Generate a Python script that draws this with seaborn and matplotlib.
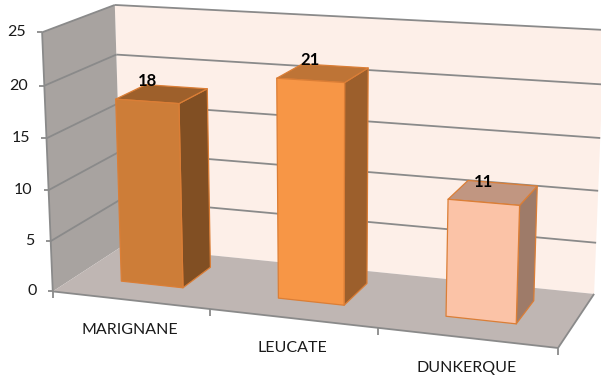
import numpy as np
import matplotlib
matplotlib.use("Agg")
import matplotlib.pyplot as plt
import matplotlib.colors as mcolors
from matplotlib.patches import Polygon
import seaborn as sns

# ---- data -------------------------------------------------------------
sites = ["MARIGNANE", "LEUCATE", "DUNKERQUE"]
counts = [18, 21, 11]
value_ticks = [0, 5, 10, 15, 20, 25]
bar_colors = ["#CD7D38", "#F79646", "#FBC3A7"]

sns.set_theme(style="white")
plt.rcParams["font.family"] = ["Lato", "DejaVu Sans"]

W, H = 601, 383
n_cat = len(sites)
z_max = value_ticks[-1]

# ---- perspective camera for the 3-D plot box -------------------------
# plot box: x = category slots, y = depth (0 front .. 1 back), z = value.
# The floor is placed by its corners and category ticks on the canvas,
# upright edges converge on a far vanishing point below the chart.
floor_world = np.array([[0, 0], [1, 0], [2, 0], [n_cat, 0], [0, 1], [n_cat, 1]], float)
floor_canvas = np.array([[52.3, 289.3], [211.0, 308.5], [378.3, 328.7],
                         [557.3, 350.0], [122.0, 248.3], [594.3, 291.7]])
vertical_vanish = np.array([329.0, 7000.0])
top_front_left = np.array([41.7, 32.3])       # canvas spot of (0, 0, z_max)


def fit_floor(world, canvas):
    cn = canvas / W
    rows = []
    for (X, Y), (u, v) in zip(world, cn):
        rows.append([X, Y, 1, 0, 0, 0, -u * X, -u * Y, -u])
        rows.append([0, 0, 0, X, Y, 1, -v * X, -v * Y, -v])
    _, _, vt = np.linalg.svd(np.array(rows))
    return vt[-1].reshape(3, 3)


def build_camera():
    hf = fit_floor(floor_world, floor_canvas)
    vp = np.array([*(vertical_vanish / W), 1.0])
    q = hf[:, 2]
    vt = top_front_left[1] / W
    lam = (vt * q[2] - q[1]) / (vp[1] - vt * vp[2])
    return np.column_stack([hf[:, 0], hf[:, 1], lam * vp, hf[:, 2]])


CAM = build_camera()


def proj(x, y, z):
    p = CAM @ np.array([x, y, z / z_max, 1.0])
    return p[0] / p[2] * W, p[1] / p[2] * W


def face(ax, pts, fc, ec="none", lw=0.0, z=1):
    ax.add_patch(Polygon([proj(*p) for p in pts], closed=True, facecolor=fc,
                         edgecolor=ec, linewidth=lw, zorder=z, joinstyle="round"))


def seg(ax, a, b, **kw):
    (u0, v0), (u1, v1) = proj(*a), proj(*b)
    ax.plot([u0, u1], [v0, v1], **kw)


fig = plt.figure(figsize=(W / 100, H / 100), dpi=100)
ax = fig.add_axes([0, 0, 1, 1])
ax.set_xlim(0, W)
ax.set_ylim(H, 0)
ax.axis("off")

grid_kw = dict(color="#8A8A8A", lw=1.3, solid_capstyle="butt", zorder=2)

# walls and floor
face(ax, [(0, 1, 0), (n_cat, 1, 0), (n_cat, 1, z_max), (0, 1, z_max)], "#FDEFE8")
face(ax, [(0, 0, 0), (0, 1, 0), (0, 1, z_max), (0, 0, z_max)], "#A8A3A0")
face(ax, [(0, 0, 0), (n_cat, 0, 0), (n_cat, 1, 0), (0, 1, 0)], "#BFB6B3")

# horizontal gridlines on the side and back walls
for t in value_ticks[1:]:
    seg(ax, (0, 0, t), (0, 1, t), **grid_kw)
    seg(ax, (0, 1, t), (n_cat, 1, t), **grid_kw)

# axis lines
seg(ax, (0, 0, 0), (0, 0, z_max), **grid_kw)
seg(ax, (0, 0, 0), (n_cat, 0, 0), **grid_kw)
seg(ax, (n_cat, 0, 0), (n_cat, 1, 0), **grid_kw)

# value axis ticks and labels
for t in value_ticks:
    u, v = proj(0, 0, t)
    ax.plot([u - 5, u], [v, v], **grid_kw)
    ax.text(u - 16, v, f"{t}", ha="right", va="center", fontsize=11.5,
            color="#1A1A1A")

# category ticks and labels
for k in range(n_cat + 1):
    u, v = proj(k, 0, 0)
    ax.plot([u, u], [v, v + 7], **grid_kw)
for i, name in enumerate(sites):
    u, v = proj(i + 0.5, 0, 0)
    ax.text(u, v + 30, name, ha="center", va="center", fontsize=11.5,
            color="#1A1A1A")

# 3-D columns (width 0.4 of a slot, set back into the depth of the box)
bar_w = 0.4
d0, d1 = 0.32, 0.76
edge = "#DB7E36"
for i, (val, col) in enumerate(zip(counts, bar_colors)):
    rgb = np.array(mcolors.to_rgb(col))
    x0, x1 = i + 0.5 - bar_w / 2, i + 0.5 + bar_w / 2
    face(ax, [(x1, d0, 0), (x1, d1, 0), (x1, d1, val), (x1, d0, val)],
         rgb * 0.63, edge, 0.9, 5)
    face(ax, [(x0, d0, val), (x1, d0, val), (x1, d1, val), (x0, d1, val)],
         rgb * 0.77, edge, 0.9, 5)
    face(ax, [(x0, d0, 0), (x1, d0, 0), (x1, d0, val), (x0, d0, val)],
         rgb, edge, 0.9, 6)
    u, v = proj(i + 0.5, d0, val)
    ax.text(u, v - 20, f"{val}", ha="center", va="center", fontsize=12,
            fontweight="bold", color="black", zorder=8)

fig.savefig("out.png", dpi=100)
